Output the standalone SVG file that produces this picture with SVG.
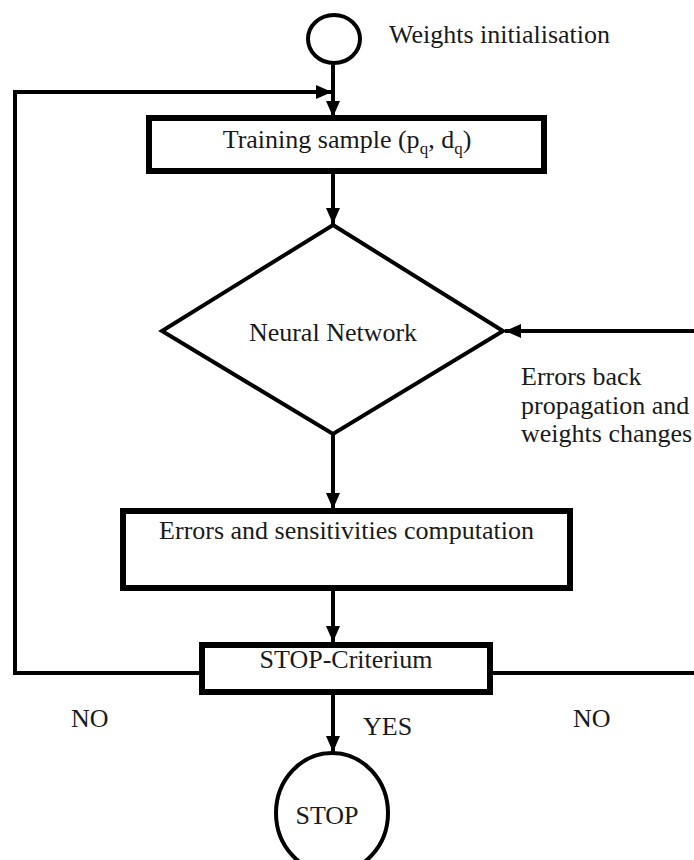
<svg xmlns="http://www.w3.org/2000/svg" width="694" height="860" viewBox="0 0 694 860">
<style>
  .t { font-family: "Liberation Serif", "Times New Roman", serif; font-size: 26px; fill: #1a1a1a; }
  .mid { text-anchor: middle; }
  .box { fill: #fff; stroke: #000; stroke-width: 6; }
  .shape { fill: #fff; stroke: #000; stroke-width: 4; }
  .conn { fill: none; stroke: #000; stroke-width: 4; }
  .arr { marker-end: url(#ah); }
</style>
<defs>
  <marker id="ah" markerUnits="userSpaceOnUse" markerWidth="18" markerHeight="16" refX="16" refY="7" orient="auto">
    <path d="M0,0 L16,7 L0,14 z" fill="#000"/>
  </marker>
</defs>
<rect width="694" height="860" fill="#fff"/>

<g id="connectors">
  <line class="conn arr" x1="333" y1="64" x2="333" y2="117"/>
  <polyline class="conn arr" points="199,673 15,673 15,92 332,92"/>
  <line class="conn arr" x1="333" y1="172" x2="333" y2="224"/>
  <line class="conn arr" x1="694" y1="331" x2="505" y2="331"/>
  <line class="conn arr" x1="333" y1="434" x2="333" y2="509"/>
  <line class="conn arr" x1="333" y1="590" x2="333" y2="642"/>
  <line class="conn" x1="492" y1="673" x2="694" y2="673"/>
  <line class="conn arr" x1="333" y1="694" x2="333" y2="752"/>
</g>

<g id="start">
  <ellipse class="shape" cx="334" cy="39" rx="26" ry="24"/>
  <text class="t" x="389" y="43">Weights initialisation</text>
</g>

<g id="training">
  <rect class="box" x="149" y="118" width="395" height="53"/>
  <text class="t mid" x="347" y="148">Training sample (p<tspan dy="6" font-size="17">q</tspan><tspan dy="-6">, d</tspan><tspan dy="6" font-size="17">q</tspan><tspan dy="-6">)</tspan></text>
</g>

<g id="network">
  <polygon class="shape" points="333,225 503,331 333,434 162,331"/>
  <text class="t mid" x="333" y="341">Neural Network</text>
</g>

<g id="backprop-label">
  <text class="t" x="521" y="385">Errors back</text>
  <text class="t" x="521" y="414">propagation and</text>
  <text class="t" x="521" y="442">weights changes</text>
</g>

<g id="errors">
  <rect class="box" x="123" y="511" width="447" height="77"/>
  <text class="t mid" x="346.5" y="539">Errors and sensitivities computation</text>
</g>

<g id="criterion">
  <rect class="box" x="202" y="645" width="288" height="47"/>
  <text class="t mid" x="346" y="668">STOP-Criterium</text>
</g>

<g id="labels">
  <text class="t" x="71" y="727">NO</text>
  <text class="t" x="363" y="735">YES</text>
  <text class="t" x="573" y="727">NO</text>
</g>

<g id="stop">
  <ellipse class="shape" cx="332" cy="813" rx="56" ry="60"/>
  <text class="t mid" x="327" y="824">STOP</text>
</g>
</svg>
